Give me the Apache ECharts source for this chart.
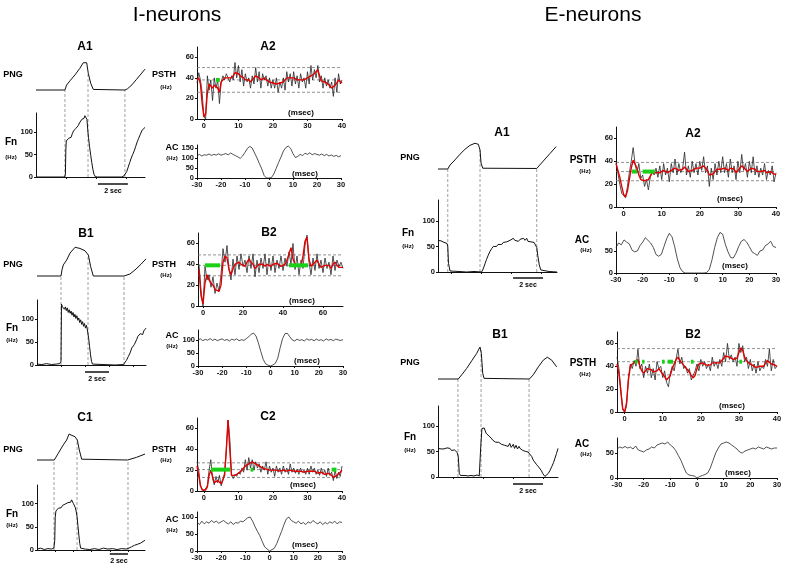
<!DOCTYPE html>
<html>
<head>
<meta charset="utf-8">
<script src="https://cdn.jsdelivr.net/npm/echarts@6/dist/echarts.min.js"></script>
<style>
html, body { margin: 0; padding: 0; background: #fff; }
#chart { width: 785px; height: 568px; }
</style>
</head>
<body>
<div id="chart"></div>
<script>
var FONT = '"Liberation Sans", Arial, Helvetica, sans-serif';

// ---------- I-neurons, A ----------
var iaPng = [[0,0],[1.93,0],[2.04,0.17],[2.27,0.32],[2.6,0.52],[2.93,0.75],[3.15,0.94],[3.27,1.0],[3.38,0.94],[3.49,0.57],[3.65,0.23],[3.82,0.02],[3.93,0],[5.93,0],[6.1,0.04],[6.4,0.18],[6.71,0.37],[7.0,0.55],[7.27,0.72]];
var iaFn = [[0,0],[0.6,0],[1.2,0],[1.9,0],[1.96,5],[1.99,60],[2.02,80],[2.1,78],[2.18,86],[2.26,90],[2.34,88],[2.42,96],[2.5,102],[2.58,100],[2.66,108],[2.74,110],[2.82,114],[2.9,120],[2.98,122],[3.06,128],[3.14,132],[3.2,130],[3.26,136],[3.3,138],[3.34,134],[3.37,140],[3.4,128],[3.45,105],[3.5,88],[3.57,68],[3.65,48],[3.72,32],[3.8,16],[3.87,6],[3.95,1],[4.1,0],[5,0],[5.7,0],[5.85,2],[5.95,5],[6.05,12],[6.15,22],[6.25,32],[6.35,42],[6.45,50],[6.55,58],[6.65,68],[6.75,78],[6.85,86],[6.95,94],[7.02,98],[7.08,104],[7.14,100],[7.2,106],[7.27,110]];
var iaDash = [[1.93,0],[3.47,0.62],[5.93,0]];
var iaBar = 4.13;
var iaPsthRaw = [35,45,38,25,2,0,42,28,38,18, 40,30,38,15,36,42,38,44,40,36, 42,38,55,40,52,36,48,32,44,36, 40,30,42,34,50,36,46,30,44,38, 42,32,40,30,38,30,40,26,36,30, 40,28,46,36,44,32,46,34,42,30, 44,36,40,30,46,34,52,38,48,40, 52,36,42,30,40,32,38,30,36,22, 40,26,44,34,38];
var iaPsthRed = [38,40,34,15,2,5,25,34,32,30, 33,32,30,26,36,38,40,41,40,39, 40,42,45,46,44,42,43,40,38,39, 38,36,38,40,42,41,40,38,39,40, 38,37,36,35,35,34,34,34,35,35, 36,37,40,41,40,39,40,39,38,37, 38,39,38,38,40,41,42,43,44,46, 48,42,37,36,36,35,34,32,30,30, 33,35,38,37,35];
var iaRef = [50, 38, 26];
var iaGreen = [[3.5, 4.6]];
var iaAc = [112,118,110,116,114,120,113,118,115,121, 114,118,122,116,125,118,112,106,98,110, 128,148,158,150,125,100,72,45,12,0, 0,2,20,48,78,105,135,152,160,148, 122,102,108,118,112,124,118,126,116,122, 118,114,120,112,118,110,115,108,113,106, 112];

// ---------- I-neurons, B ----------
var ibPng = [[0,0],[2.0,0],[2.08,0.21],[2.19,0.38],[2.47,0.55],[2.75,0.79],[3.17,0.99],[3.33,1.0],[3.58,0.95],[4.0,0.87],[4.28,0.72],[4.47,0.32],[4.69,0],[7.25,0],[7.75,0.07],[8.25,0.24],[8.67,0.41],[9.08,0.59]];
var ibFn = [[0,2],[0.4,1],[0.8,3],[1.2,1],[1.6,2],[1.9,3],[2.0,8],[2.04,132],[2.12,126],[2.2,130],[2.28,121],[2.36,126],[2.44,118],[2.52,124],[2.6,114],[2.68,120],[2.76,112],[2.84,117],[2.92,108],[3.0,114],[3.08,104],[3.16,110],[3.24,101],[3.32,107],[3.4,97],[3.48,102],[3.56,92],[3.64,98],[3.72,88],[3.8,94],[3.88,84],[3.96,90],[4.04,80],[4.12,86],[4.2,76],[4.26,72],[4.3,58],[4.38,40],[4.46,22],[4.54,8],[4.62,2],[4.75,0],[5.5,1],[6.5,0],[7.2,1],[7.3,4],[7.45,10],[7.6,18],[7.75,26],[7.9,37],[8.0,33],[8.1,44],[8.2,48],[8.3,55],[8.4,62],[8.5,58],[8.6,68],[8.7,70],[8.8,66],[8.9,74],[9.0,78],[9.08,80]];
var ibDash = [[2.0,0],[4.25,0.74],[7.25,0]];
var ibBar = 4.0;
var ibPsthRaw = [40,15,0,38,25,30,18,28,12,22, 14,30,55,42,58,35,25,45,30,48, 35,50,38,44,32,48,36,50,28,44, 32,46,36,50,30,46,34,48,32,44, 36,48,34,46,38,52,40,60,35,48, 30,44,36,58,68,42,30,46,34,50, 36,44,32,46,36,42,30,48,34,44, 38,42,36];
var ibPsthRed = [35,10,2,22,30,25,22,20,16,15, 14,20,42,48,46,35,30,36,40,39, 42,40,41,38,42,45,42,40,36,38, 40,41,40,38,40,41,38,40,39,41, 40,38,39,40,44,50,56,45,40,38, 37,38,48,62,66,45,38,40,42,44, 40,37,38,39,40,39,36,40,42,39, 37,38,37];
var ibRef = [49, 39, 29];
var ibGreen = [[1, 8.5], [43, 52.5]];
var ibAc = [100,104,97,102,99,105,98,103,97,101, 104,98,102,96,103,99,104,97,101,98, 105,112,122,126,115,88,55,25,8,3, 0,4,10,30,70,105,124,125,112,100, 96,103,98,101,96,104,99,102,97,103, 98,101,96,104,99,102,97,103,100,98, 101];

// ---------- I-neurons, C ----------
var icPng = [[0,0],[1.9,0],[2.34,0.25],[2.89,0.56],[3.26,0.74],[3.52,0.96],[3.7,0.95],[4.18,0.86],[4.43,0.74],[4.65,0.37],[4.91,0.03],[5.0,0],[9.96,0],[10.95,0.1],[11.87,0.22]];
var icFn = [[0,2],[0.4,4],[0.8,1],[1.2,3],[1.6,2],[1.85,4],[1.95,20],[2.0,70],[2.08,84],[2.2,88],[2.35,90],[2.5,93],[2.65,91],[2.8,96],[2.95,94],[3.1,99],[3.25,96],[3.4,102],[3.5,98],[3.6,106],[3.7,103],[3.8,108],[3.9,104],[4.0,100],[4.1,96],[4.2,92],[4.3,84],[4.4,72],[4.5,52],[4.6,32],[4.7,14],[4.8,4],[4.9,1],[5.3,2],[5.8,1],[6.3,3],[6.8,1],[7.3,4],[7.8,2],[8.3,3],[8.8,1],[9.3,3],[9.8,2],[10.1,4],[10.4,7],[10.7,10],[11.0,12],[11.2,11],[11.4,15],[11.6,18],[11.87,21]];
var icDash = [[1.87,0],[4.4,0.76],[10.0,0]];
var icBar = 8.0;
var icPsthRaw = [28,20,5,2,0,1,5,20,30,12, 6,14,8,15,5,10,18,40,68,50, 15,12,16,14,18,16,22,18,30,20, 32,22,30,20,28,22,26,18,24,20, 28,16,24,18,22,14,24,18,22,16, 24,18,22,16,26,18,22,17,21,16, 22,18,20,16,22,16,24,18,22,16, 20,15,22,16,20,14,22,15,18,10, 20,12,18,14,24];
var icPsthRed = [24,15,5,1,0,1,4,15,20,14, 8,8,10,9,7,8,15,40,68,40, 15,14,15,16,17,18,20,22,24,25, 26,27,28,27,26,25,24,23,22,22, 21,21,20,20,20,19,20,20,19,19, 20,20,19,20,20,20,19,19,19,18, 19,19,18,18,19,19,19,18,19,18, 17,17,18,17,16,16,17,16,15,13, 14,15,16,18,20];
var icRef = [27, 20.5, 13];
var icGreen = [[2, 7.6], [13.5, 14.3], [37, 38.4]];
var icAc = [85,78,88,80,86,82,90,84,88,82, 86,90,84,80,86,78,84,82,88,86, 92,98,100,88,72,58,45,28,12,6, 0,4,8,22,40,58,78,95,100,90, 86,82,88,80,84,78,86,82,90,84, 80,86,78,84,80,86,82,88,80,86, 84];

// ---------- E-neurons, A ----------
var eaPng = [[-0.9,0],[-0.25,0],[-0.1,0.15],[0.23,0.35],[0.57,0.57],[0.9,0.76],[1.23,0.91],[1.57,0.99],[1.79,0.95],[1.9,0.73],[1.97,0.22],[2.08,0.03],[2.2,0.02],[5.68,0.02],[6.12,0.31],[6.57,0.6],[6.97,0.86]];
var eaFn = [[-0.9,62],[-0.8,64],[-0.7,61],[-0.6,63],[-0.5,58],[-0.4,59],[-0.3,56],[-0.25,50],[-0.2,17],[-0.1,2],[0,0],[0.5,1],[1,0],[1.5,1],[2.0,0],[2.08,4],[2.16,10],[2.24,17],[2.34,25],[2.45,33],[2.56,40],[2.68,46],[2.79,50],[2.9,52],[3.0,50],[3.1,54],[3.23,56],[3.35,54],[3.45,58],[3.56,56],[3.68,59],[3.78,57],[3.9,62],[4.0,59],[4.12,66],[4.22,62],[4.32,65],[4.45,60],[4.57,64],[4.68,61],[4.8,66],[4.9,62],[5.01,66],[5.1,60],[5.2,63],[5.3,59],[5.4,62],[5.5,58],[5.6,56],[5.68,48],[5.75,32],[5.85,14],[5.95,4],[6.02,1],[6.5,1],[7.03,0]];
var eaDash = [[-0.25,0],[1.9,0.73],[5.68,0]];
var eaBar = 4.1;
var eaPsthRaw = [40,30,20,12,10,8,18,30,40,52, 38,30,38,25,28,18,24,15,26,32, 28,34,26,36,24,38,28,34,22,38, 30,42,28,38,30,34,48,28,36,26, 40,30,38,28,40,32,44,30,36,18, 34,24,38,28,40,30,44,30,38,26, 42,30,36,24,40,30,46,32,38,26, 40,30,44,28,36,26,34,28,38,24, 32,28,36,22,30];
var eaPsthRed = [38,32,26,18,11,9,14,24,34,41, 40,34,28,24,24,23,22,24,27,30, 31,30,29,30,31,32,31,30,30,32, 33,34,33,32,31,33,35,33,31,30, 32,33,34,33,34,35,36,35,32,28, 27,29,31,33,34,33,34,34,33,32, 34,35,33,30,32,34,36,35,33,31, 32,34,35,33,31,30,31,32,32,30, 30,31,30,29,28];
var eaRef = [39, 31, 23];
var eaGreen = [[2.2, 3.5], [5, 8.2]];
var eaAc = [58,68,64,75,70,66,52,48,50,62, 70,80,74,68,58,42,38,42,60,78, 90,82,60,32,12,3,0,0,0,0, 0,0,0,0,1,8,30,58,80,92, 88,65,48,35,34,45,60,72,76,70, 60,48,44,40,50,52,62,66,72,60, 58];

// ---------- E-neurons, B ----------
var ebPng = [[-1,0],[0.35,0],[0.58,0.13],[0.91,0.33],[1.25,0.57],[1.58,0.8],[1.8,1.0],[1.89,0.8],[1.98,0.18],[2.07,0.02],[2.2,0],[5.09,0],[5.35,0.13],[5.69,0.38],[6.02,0.59],[6.29,0.68],[6.58,0.59],[6.91,0.38]];
var ebFn = [[-1,56],[-0.9,53],[-0.8,55],[-0.7,52],[-0.6,55],[-0.5,53],[-0.4,57],[-0.3,54],[-0.2,56],[-0.1,52],[0,55],[0.1,53],[0.2,52],[0.28,48],[0.35,40],[0.42,7],[0.5,3],[0.58,2],[0.8,3],[1.0,2],[1.2,3],[1.4,2],[1.6,4],[1.75,2],[1.8,3],[1.85,60],[1.93,95],[2.0,92],[2.08,96],[2.2,86],[2.3,88],[2.4,80],[2.47,79],[2.55,76],[2.65,72],[2.75,70],[2.85,68],[2.95,66],[3.05,68],[3.13,66],[3.23,64],[3.35,66],[3.45,62],[3.58,63],[3.68,60],[3.78,66],[3.88,58],[4.02,64],[4.1,56],[4.2,62],[4.3,55],[4.4,60],[4.47,56],[4.55,58],[4.65,52],[4.75,55],[4.85,50],[4.91,52],[5.0,49],[5.13,46],[5.25,40],[5.35,33],[5.45,30],[5.58,24],[5.7,20],[5.8,17],[5.9,12],[5.98,7],[6.05,4],[6.13,1],[6.22,3],[6.35,7],[6.45,12],[6.58,20],[6.7,28],[6.8,37],[6.9,46],[7.0,56]];
var ebDash = [[0.33,0],[1.87,0.9],[5.07,0]];
var ebBar = 4.0;
var ebPsthRaw = [48,38,20,2,0,5,30,42,38,45, 40,55,38,42,30,40,34,42,30,38, 28,44,38,40,30,36,26,22,34,40, 36,46,55,42,48,38,40,34,38,28, 32,36,42,36,46,40,44,38,42,36, 48,40,44,38,46,40,52,44,60,46, 50,44,48,40,60,52,58,44,48,38, 46,36,42,34,44,36,40,38,46,40, 55,36,46,38,40];
var ebPsthRed = [42,34,18,3,0,8,28,40,42,42, 44,46,40,36,34,36,38,39,37,35, 34,36,38,37,33,31,28,27,32,38, 42,46,48,45,43,41,39,37,35,32, 30,32,38,42,43,43,42,41,40,41, 43,44,43,42,43,45,47,49,50,48, 47,46,45,47,52,56,54,48,45,43, 42,41,40,39,40,40,39,40,43,45, 44,42,43,41,40];
var ebRef = [55.5, 44, 32.5];
var ebGreen = [[2.7, 3.4], [4.6, 5.2], [9.8, 10.5], [11.3, 12.7], [17.4, 18.1], [30.1, 30.8]];
var ebAc = [58,62,60,63,60,62,58,64,56,54, 52,56,58,62,60,66,68,70,68,72, 66,62,55,45,35,22,10,6,5,4, 0,3,5,7,10,20,35,50,60,68, 70,72,70,66,62,58,52,50,54,56, 58,60,58,62,60,58,62,60,58,60, 60];

var psthTicks = [0, 20, 40, 60];
var acLagTicks = [-30, -20, -10, 0, 10, 20, 30];

// ---------- builders ----------
var grids = [], xAxes = [], yAxes = [], series = [], texts = [];

function addGrid(left, top, width, height, xa, ya) {
  var gi = grids.length;
  grids.push({left: left, top: top, width: width, height: height});
  xAxes.push(Object.assign({gridIndex: gi, type: 'value', show: false, splitLine: {show: false}}, xa));
  yAxes.push(Object.assign({gridIndex: gi, type: 'value', show: false, splitLine: {show: false}}, ya));
  return gi;
}

function shown(labels, ticks) {
  return {
    show: true,
    axisLine: {show: true, onZero: false, lineStyle: {color: '#111', width: 1}},
    axisTick: {show: true, length: 2, customValues: ticks || labels, lineStyle: {color: '#111', width: 1}},
    axisLabel: {show: !!labels, customValues: labels || [], fontSize: 7.5, fontWeight: 'bold', fontFamily: FONT, color: '#111', margin: 3},
    splitLine: {show: false}
  };
}

function line(gi, data, color, width, dashed) {
  series.push({
    type: 'line', xAxisIndex: gi, yAxisIndex: gi, data: data,
    showSymbol: false, symbol: 'none', silent: true,
    lineStyle: {color: color, width: width, type: dashed ? [3, 2] : 'solid'}
  });
}

function respPanel(L, png, fn, dash, bar, ticks) {
  var w = L.x1 - L.x0;
  var pmax = (L.pngBase - L.pngTop) / L.pngUnit;
  var pmin = -(L.fnBot - L.pngBase) / L.pngUnit;
  var gp = addGrid(L.x0, L.pngTop, w, L.fnBot - L.pngTop, {min: L.tmin, max: L.tmax}, {min: pmin, max: pmax});
  dash.forEach(function (d) { line(gp, [[d[0], pmin], [d[0], d[1]]], '#888', 0.8, true); });
  line(gp, png, '#111', 1);
  var gf = addGrid(L.x0, L.fnTop, w, L.fnBot - L.fnTop,
    Object.assign({min: L.tmin, max: L.tmax}, shown(null, ticks)),
    Object.assign({min: 0, max: L.fnMax}, shown([0, 50, 100])));
  line(gf, fn, '#111', 1);
  var gb = addGrid(L.x0, L.barY - 3, w, 6, {min: L.tmin, max: L.tmax}, {min: -1, max: 1});
  line(gb, [[bar, 0], [bar + 2, 0]], '#111', 1.3);
  var cx = L.x0 + (bar + 1 - L.tmin) / (L.tmax - L.tmin) * w;
  texts.push(['2 sec', cx, L.barY + 7, 7, 'bold']);
}

function bins(vals, start, step) {
  return vals.map(function (v, i) { return [start + i * step, v]; });
}

function psthPanel(L, start, step, raw, red, ref, green, xLabels) {
  var g = addGrid(L.left, L.top, L.width, L.height,
    Object.assign({min: L.xmin, max: L.xmax}, shown(xLabels)),
    Object.assign({min: 0, max: 70}, shown(psthTicks)));
  ref.forEach(function (r) { line(g, [[L.xmin, r], [L.xmax, r]], '#777', 0.8, true); });
  line(g, bins(raw, start, step), '#262626', 0.8);
  line(g, bins(red, start, step), '#e00000', 1.4);
  green.forEach(function (s) { line(g, [[s[0], ref[1]], [s[1], ref[1]]], '#19d119', 4); });
}

function acPanel(L, ac, yLabels) {
  var g = addGrid(L.left, L.top, L.width, L.height,
    Object.assign({min: -30, max: 30}, shown(acLagTicks)),
    Object.assign({min: 0, max: L.ymax}, shown(yLabels)));
  line(g, bins(ac, -30, 1), '#262626', 0.8);
}

// ---------- panels ----------
respPanel({x0: 36, x1: 145, tmin: 0, tmax: 7.27, pngTop: 58, pngBase: 90, pngUnit: 29, fnTop: 113, fnBot: 177, fnMax: 142, barY: 184}, iaPng, iaFn, iaDash, iaBar, [2, 4, 6]);
respPanel({x0: 37, x1: 146, tmin: 0, tmax: 9.08, pngTop: 244, pngBase: 276, pngUnit: 29, fnTop: 300, fnBot: 365, fnMax: 141, barY: 372}, ibPng, ibFn, ibDash, ibBar, [2, 4, 6, 8]);
respPanel({x0: 37, x1: 145, tmin: 0, tmax: 11.87, pngTop: 430, pngBase: 460, pngUnit: 27, fnTop: 485, fnBot: 550, fnMax: 140, barY: 554}, icPng, icFn, icDash, icBar, [2, 4, 6, 8, 10]);
respPanel({x0: 438, x1: 557, tmin: -0.9, tmax: 7.03, pngTop: 140, pngBase: 169, pngUnit: 26, fnTop: 200, fnBot: 272, fnMax: 141, barY: 278}, eaPng, eaFn, eaDash, eaBar, [0, 2, 4, 6]);
respPanel({x0: 438, x1: 558, tmin: -1, tmax: 7, pngTop: 343, pngBase: 379, pngUnit: 32, fnTop: 406, fnBot: 477, fnMax: 139, barY: 484}, ebPng, ebFn, ebDash, ebBar, [0, 2, 4, 6]);

psthPanel({left: 197, top: 47, width: 145, height: 72, xmin: -2, xmax: 40}, -2, 0.5, iaPsthRaw, iaPsthRed, iaRef, iaGreen, [0, 10, 20, 30, 40]);
acPanel({left: 197, top: 145, width: 144, height: 33, ymax: 165}, iaAc, [0, 50, 100, 150]);
psthPanel({left: 198, top: 233, width: 145, height: 73, xmin: -2.5, xmax: 70}, -2, 1, ibPsthRaw, ibPsthRed, ibRef, ibGreen, [0, 20, 40, 60]);
acPanel({left: 198, top: 330, width: 145, height: 36, ymax: 138}, ibAc, [0, 50, 100]);
psthPanel({left: 197, top: 418, width: 145, height: 73, xmin: -2, xmax: 40}, -2, 0.5, icPsthRaw, icPsthRed, icRef, icGreen, [0, 10, 20, 30, 40]);
acPanel({left: 197, top: 512, width: 145, height: 39, ymax: 115}, icAc, [0, 50, 100]);
psthPanel({left: 616, top: 127, width: 160, height: 80, xmin: -2, xmax: 40}, -2, 0.5, eaPsthRaw, eaPsthRed, eaRef, eaGreen, [0, 10, 20, 30, 40]);
acPanel({left: 616, top: 232, width: 160, height: 41, ymax: 93}, eaAc, [0, 50]);
psthPanel({left: 617, top: 332, width: 160, height: 80, xmin: -2, xmax: 40}, -2, 0.5, ebPsthRaw, ebPsthRed, ebRef, ebGreen, [0, 10, 20, 30, 40]);
acPanel({left: 617, top: 438, width: 160, height: 40, ymax: 80}, ebAc, [0, 50]);

// ---------- text ----------
texts.push(
  ['I-neurons', 177, 15, 21, 'normal'], ['E-neurons', 593, 15, 21, 'normal'],
  ['A1', 85, 47, 12, 'bold'], ['A2', 268, 47, 12, 'bold'],
  ['B1', 86, 234, 12, 'bold'], ['B2', 269, 233, 12, 'bold'],
  ['C1', 85, 418, 12, 'bold'], ['C2', 268, 417, 12, 'bold'],
  ['A1', 502, 133, 12, 'bold'], ['A2', 693, 134, 12, 'bold'],
  ['B1', 500, 335, 12, 'bold'], ['B2', 693, 335, 12, 'bold'],
  ['PNG', 13, 75, 9, 'bold'], ['PNG', 13, 265, 9, 'bold'], ['PNG', 13, 450, 9, 'bold'],
  ['PNG', 410, 158, 9, 'bold'], ['PNG', 410, 363, 9, 'bold'],
  ['Fn', 11, 142, 10, 'bold'], ['(Hz)', 11, 157, 6, 'bold'],
  ['Fn', 12, 328, 10, 'bold'], ['(Hz)', 12, 340, 6, 'bold'],
  ['Fn', 12, 514, 10, 'bold'], ['(Hz)', 12, 525, 6, 'bold'],
  ['Fn', 408, 233, 10, 'bold'], ['(Hz)', 408, 246, 6, 'bold'],
  ['Fn', 410, 437, 10, 'bold'], ['(Hz)', 410, 450, 6, 'bold'],
  ['PSTH', 164, 75, 9, 'bold'], ['(Hz)', 166, 87, 6, 'bold'],
  ['PSTH', 164, 265, 9, 'bold'], ['(Hz)', 166, 275, 6, 'bold'],
  ['PSTH', 164, 450, 9, 'bold'], ['(Hz)', 166, 460, 6, 'bold'],
  ['AC', 172, 148, 9, 'bold'], ['(Hz)', 172, 158, 6, 'bold'],
  ['AC', 172, 336, 9, 'bold'], ['(Hz)', 172, 346, 6, 'bold'],
  ['AC', 172, 520, 9, 'bold'], ['(Hz)', 172, 530, 6, 'bold'],
  ['PSTH', 583, 160, 10, 'bold'], ['(Hz)', 585, 171, 6, 'bold'],
  ['PSTH', 583, 363, 10, 'bold'], ['(Hz)', 585, 374, 6, 'bold'],
  ['AC', 582, 240, 10, 'bold'], ['(Hz)', 586, 250, 6, 'bold'],
  ['AC', 582, 444, 10, 'bold'], ['(Hz)', 586, 454, 6, 'bold'],
  ['(msec)', 301, 113, 8, 'bold'], ['(msec)', 305, 174, 8, 'bold'],
  ['(msec)', 302, 301, 8, 'bold'], ['(msec)', 307, 361, 8, 'bold'],
  ['(msec)', 303, 485, 8, 'bold'], ['(msec)', 305, 545, 8, 'bold'],
  ['(msec)', 730, 199, 8, 'bold'], ['(msec)', 735, 266, 8, 'bold'],
  ['(msec)', 732, 406, 8, 'bold'], ['(msec)', 738, 473, 8, 'bold']
);

var graphic = texts.map(function (t) {
  return {
    type: 'text', x: t[1], y: t[2], silent: true,
    style: {text: t[0], font: t[4] + ' ' + t[3] + 'px ' + FONT, fill: '#000', textAlign: 'center', textVerticalAlign: 'middle'}
  };
});

var chart = echarts.init(document.getElementById('chart'), null, {renderer: 'canvas'});
chart.setOption({
  animation: false,
  backgroundColor: '#fff',
  grid: grids,
  xAxis: xAxes,
  yAxis: yAxes,
  series: series,
  graphic: graphic
});
</script>
</body>
</html>
